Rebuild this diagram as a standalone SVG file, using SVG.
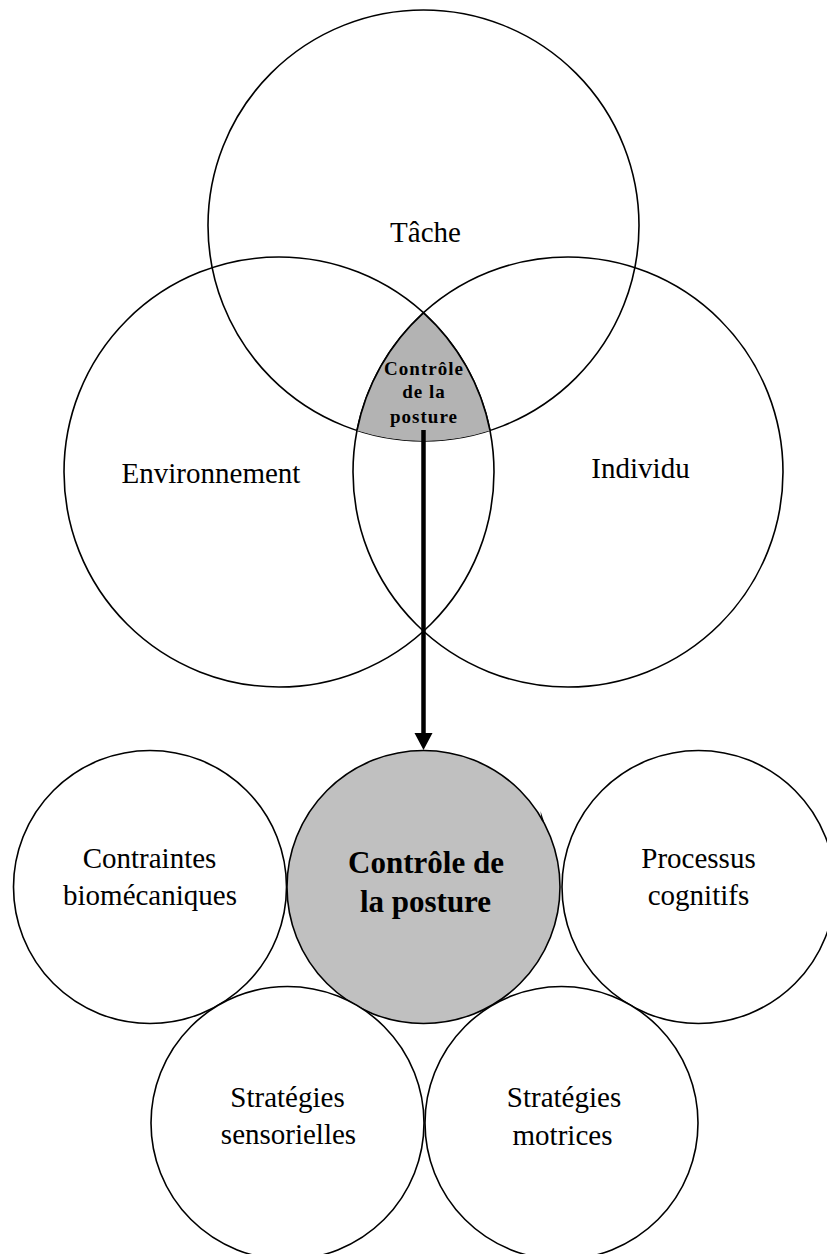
<svg xmlns="http://www.w3.org/2000/svg" width="827" height="1254" viewBox="0 0 827 1254">
  <style>
    .c { fill: none; stroke: #000; stroke-width: 1.6; }
    .cw { fill: #fff; stroke: #000; stroke-width: 1.6; }
    .cg { fill: #c0c0c0; stroke: #000; stroke-width: 1.6; }
    .t { font-family: "Liberation Serif", "Times New Roman", serif; font-size: 29px; fill: #000; text-anchor: middle; }
    .tb { font-family: "Liberation Serif", "Times New Roman", serif; font-size: 31px; font-weight: bold; fill: #000; text-anchor: middle; }
    .ts { font-family: "Liberation Serif", "Times New Roman", serif; font-size: 19px; font-weight: bold; fill: #000; text-anchor: middle; letter-spacing: 1px; }
  </style>
  <rect x="0" y="0" width="827" height="1254" fill="#fff"/>

  <g id="tache">
    <circle class="c" cx="423.5" cy="225.5" r="215.5"/>
    <text class="t" x="425.5" y="242">Tâche</text>
  </g>
  <g id="environnement">
    <circle class="c" cx="279" cy="472" r="215"/>
    <text class="t" x="211" y="483">Environnement</text>
  </g>
  <g id="individu">
    <circle class="c" cx="568" cy="472" r="215"/>
    <text class="t" x="640.5" y="478">Individu</text>
  </g>
  <g id="intersection">
    <path d="M423.5 312.8 A215 215 0 0 0 357 430.5 A215.5 215.5 0 0 0 490 430.5 A215 215 0 0 0 423.5 312.8 Z" fill="#b3b3b3" stroke="none"/>
    <path d="M357 430.5 A215 215 0 0 1 423.5 312.8 A215 215 0 0 1 490 430.5" fill="none" stroke="#000" stroke-width="1.6"/>
    <text class="ts" x="424" y="375">Contrôle</text>
    <text class="ts" x="424" y="398">de la</text>
    <text class="ts" x="424" y="423">posture</text>
  </g>

  <g id="connectors">
    <line x1="423.5" y1="430" x2="423.5" y2="735" stroke="#000" stroke-width="4.5"/>
    <polygon points="414.5,733 432.5,733 423.5,750" fill="#000"/>
  </g>

  <g id="contraintes">
    <circle class="cw" cx="150" cy="887" r="136.5"/>
    <text class="t" x="149.5" y="868">Contraintes</text>
    <text class="t" x="150" y="905">biomécaniques</text>
  </g>
  <g id="processus">
    <circle class="cw" cx="698.5" cy="887" r="136.5"/>
    <text class="t" x="698.5" y="868">Processus</text>
    <text class="t" x="698.5" y="905">cognitifs</text>
  </g>
  <g id="controle">
    <circle class="cg" cx="423.5" cy="887" r="136.5"/>
    <polygon points="540.5,811 544.5,823 541.5,820" fill="#000"/>
    <text class="tb" x="426" y="873">Contrôle de</text>
    <text class="tb" x="425.5" y="912">la posture</text>
  </g>
  <g id="sensorielles">
    <circle class="cw" cx="287.5" cy="1123" r="136.5"/>
    <text class="t" x="287.5" y="1107">Stratégies</text>
    <text class="t" x="288.5" y="1144">sensorielles</text>
  </g>
  <g id="motrices">
    <circle class="cw" cx="561.5" cy="1123" r="136.5"/>
    <text class="t" x="564" y="1107">Stratégies</text>
    <text class="t" x="562.5" y="1145">motrices</text>
  </g>
</svg>
